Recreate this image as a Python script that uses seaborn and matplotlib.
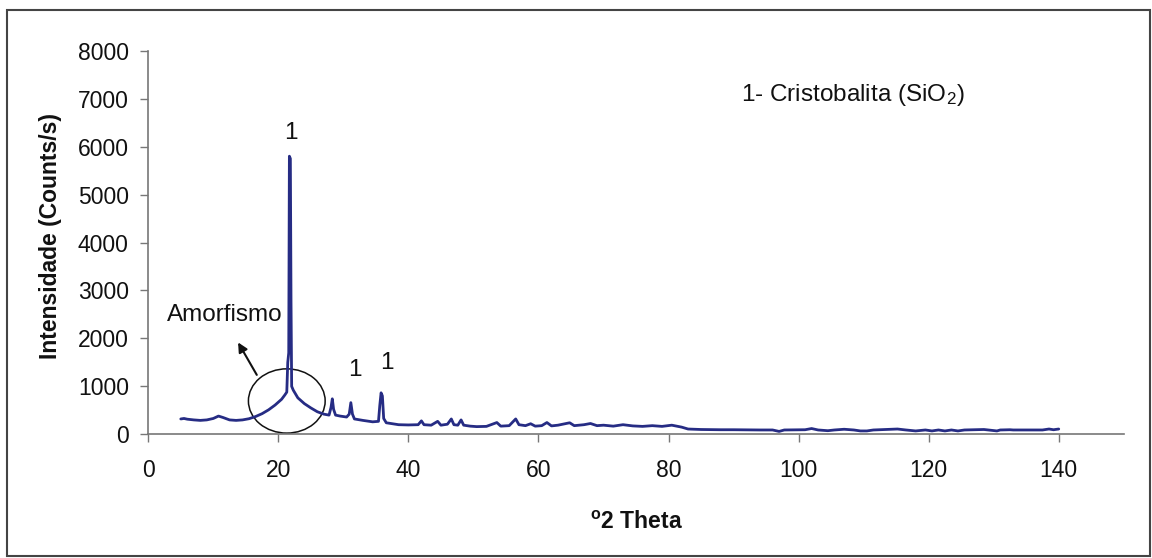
import matplotlib
matplotlib.use("Agg")
import matplotlib.pyplot as plt
import seaborn as sns
import pandas as pd
from matplotlib.patches import Ellipse, Rectangle

# ---- data ----
two_theta = [5.0, 5.5, 6.0, 7.0, 8.0, 9.0, 10.0, 10.8, 11.5, 12.5, 13.5, 14.5, 15.5, 16.5, 17.5,
             18.5, 19.5, 20.5, 21.0, 21.3, 21.45, 21.6, 21.7, 21.85, 21.95, 22.05, 22.3, 23.0, 24.0,
             25.0, 26.0, 27.0, 27.8, 28.1, 28.3, 28.5, 28.8, 29.5, 30.5, 30.9, 31.15, 31.4, 31.7,
             33.0, 34.5, 35.4, 35.6, 35.8, 36.0, 36.2, 36.6, 37.5, 38.5, 40.0, 41.5, 42.0, 42.4,
             43.5, 44.5, 45.0, 46.0, 46.6, 47.0, 47.6, 48.1, 48.5, 49.5, 50.5, 52.0, 53.6, 54.2,
             55.5, 56.5, 57.0, 58.0, 58.8, 59.5, 60.5, 61.3, 62.0, 63.0, 64.8, 65.5, 67.0, 68.0,
             69.0, 70.0, 71.5, 73.0, 74.5, 76.0, 77.5, 79.0, 80.5, 82.0, 83.0, 85.0, 88.0, 90.0,
             94.0, 96.0, 97.0, 97.8, 101.0, 102.0, 103.0, 104.5, 105.5, 107.0, 108.5, 109.5, 110.5,
             111.5, 115.2, 116.5, 118.0, 119.5, 120.5, 121.5, 122.5, 123.5, 124.5, 125.5, 128.5,
             130.5, 131.0, 132.5, 133.0, 137.5, 138.5, 139.2, 140.0]
intensity = [320, 330, 315, 300, 290, 300, 330, 380, 350, 300, 290, 300, 325, 370, 430,
             510, 610, 730, 820, 880, 1500, 1700, 5800, 5750, 2800, 1000, 920, 760, 640,
             550, 470, 420, 400, 560, 740, 520, 400, 380, 360, 420, 660, 420, 320,
             290, 260, 270, 600, 865, 800, 330, 240, 220, 200, 195, 200, 280, 200,
             190, 270, 190, 210, 320, 200, 190, 300, 190, 170, 160, 165, 245, 170,
             180, 320, 200, 180, 220, 170, 180, 245, 175, 190, 240, 180, 200, 225,
             180, 190, 170, 200, 175, 165, 180, 165, 190, 150, 110, 100, 95, 95,
             90, 90, 60, 90, 95, 120, 90, 75, 90, 105, 90, 70, 70,
             90, 110, 90, 70, 90, 70, 90, 70, 90, 70, 90, 100,
             70, 90, 95, 90, 90, 110, 95, 110]

x_ticks = [0, 20, 40, 60, 80, 100, 120, 140]
y_ticks = [0, 1000, 2000, 3000, 4000, 5000, 6000, 7000, 8000]

df = pd.DataFrame({"two_theta": two_theta, "intensity": intensity})

sns.set_style("ticks")
plt.rcParams["font.family"] = ["Liberation Sans", "DejaVu Sans"]

fig = plt.figure(figsize=(11.52, 5.58), dpi=100)
ax = fig.add_axes([0.1287, 0.2217, 0.8468, 0.6874])

sns.lineplot(data=df, x="two_theta", y="intensity", ax=ax, sort=False, estimator=None,
             color="#262c84", linewidth=2.0)

ax.set_xlim(0, 150)
ax.set_ylim(0, 8000)
ax.set_xticks(x_ticks)
ax.set_yticks(y_ticks)
ax.set_xticklabels([str(v) for v in x_ticks])
ax.set_yticklabels([str(v) for v in y_ticks])

for s in ["top", "right"]:
    ax.spines[s].set_visible(False)
for s in ["left", "bottom"]:
    ax.spines[s].set_color("#777777")
    ax.spines[s].set_linewidth(1.2)

ax.tick_params(axis="y", length=6, width=1.0, color="#777777", pad=8, labelsize=16.5, labelcolor="#111111")
ax.tick_params(axis="x", length=6, width=1.0, color="#777777", pad=12, labelsize=16.5, labelcolor="#111111")

ax.set_xlabel("$\\mathregular{^o}$2 Theta", fontsize=16.5, fontweight="bold", color="#111111")
ax.set_ylabel("Intensidade (Counts/s)", fontsize=16.5, fontweight="bold", color="#111111")
ax.xaxis.set_label_coords(0.5, -0.2)
ax.yaxis.set_label_coords(-0.088, 0.517)

# annotations
fs = 17.5
ax.text(21.9, 6284, "1", fontsize=fs, ha="center", va="center", color="#111111")
ax.text(31.8, 1341, "1", fontsize=fs, ha="center", va="center", color="#111111")
ax.text(36.7, 1480, "1", fontsize=fs, ha="center", va="center", color="#111111")
ax.text(11.8, 2487, "Amorfismo", fontsize=fs, ha="center", va="center", color="#111111")
ax.text(91.2, 7076, "1- Cristobalita (SiO$\\mathregular{_2}$)", fontsize=fs, ha="left", va="center",
        color="#111111")

ax.add_patch(Ellipse((21.3, 695), 11.8, 1340, fill=False, edgecolor="#111111", linewidth=1.1))
ax.annotate("", xy=(13.6, 1966), xytext=(16.9, 1189),
            arrowprops=dict(arrowstyle="-|>", color="#111111", lw=1.5, mutation_scale=14))

# outer frame
fig.patches.append(Rectangle((7 / 1152, 2 / 558), 1143 / 1152, (556 - 10) / 558,
                             transform=fig.transFigure, fill=False, edgecolor="#444444",
                             linewidth=1.5, figure=fig))

fig.savefig("out.png", dpi=100)
